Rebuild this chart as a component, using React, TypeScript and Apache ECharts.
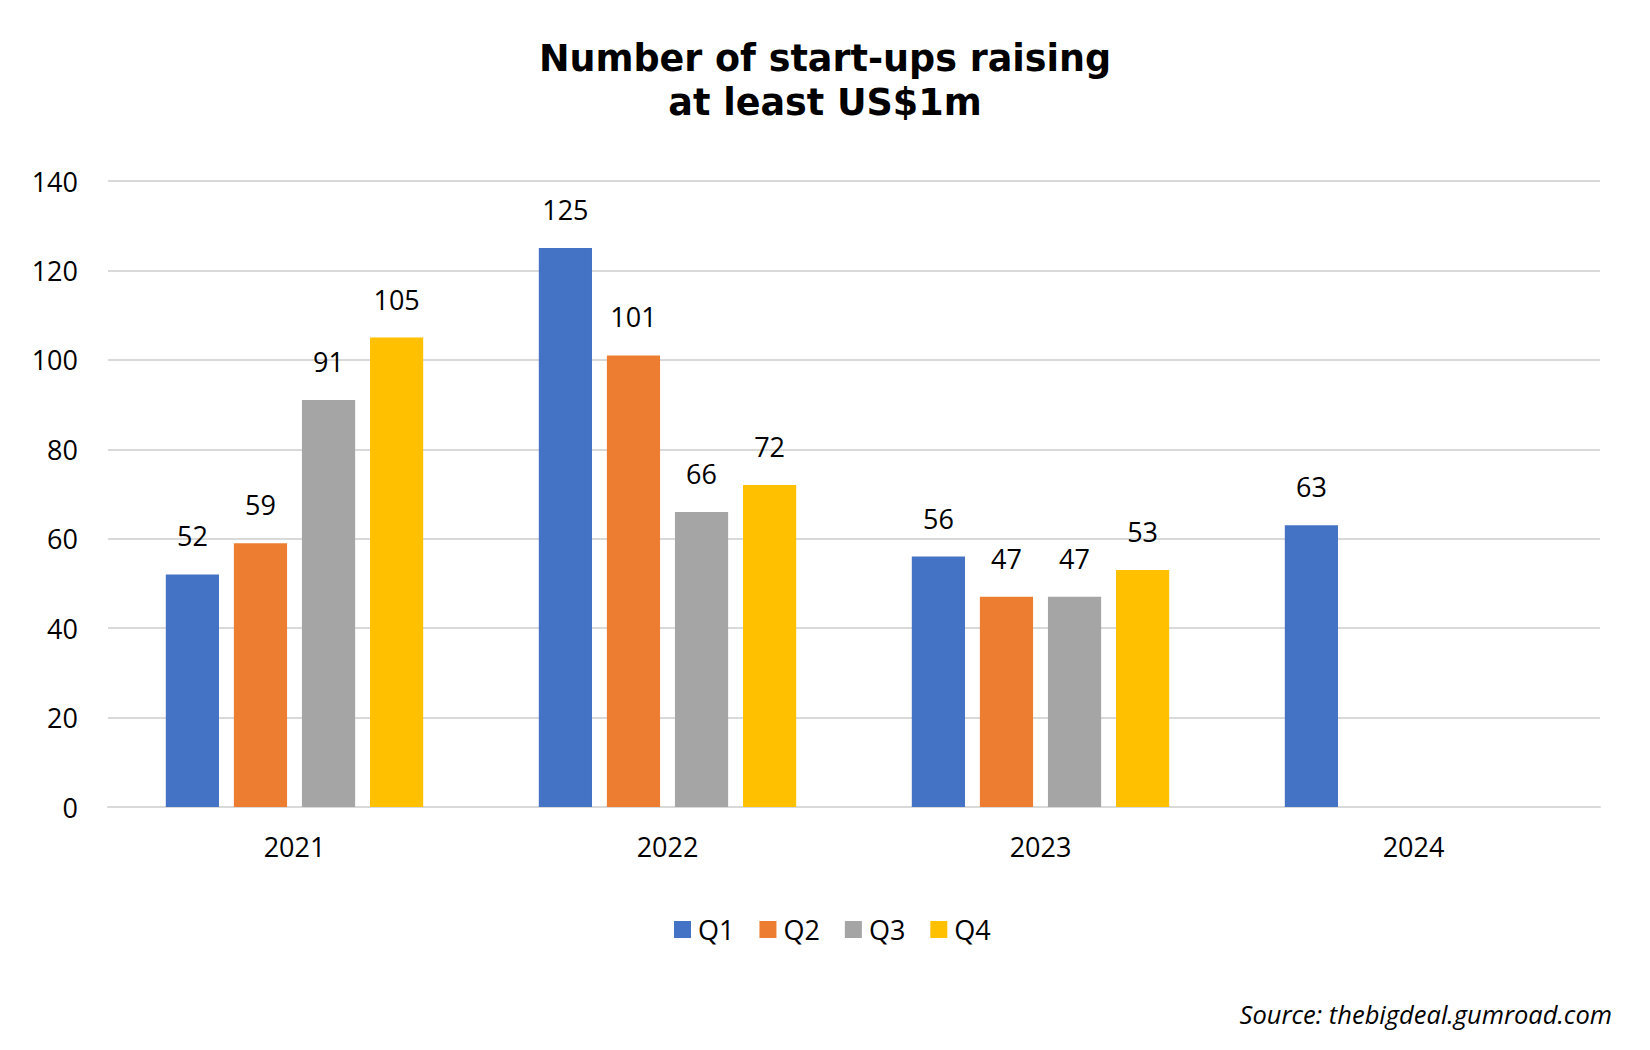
import React, { useEffect, useRef } from "react";
import * as echarts from "echarts";

const years = ["2021", "2022", "2023", "2024"];
const seriesNames = ["Q1", "Q2", "Q3", "Q4"];
const q1 = [52, 125, 56, 63];
const q2 = [59, 101, 47, null];
const q3 = [91, 66, 47, null];
const q4 = [105, 72, 53, null];
const colors = ["#4472C4", "#ED7D31", "#A5A5A5", "#FFC000"];
const yTicks = { min: 0, max: 140, interval: 20 };

const FONT = "'Open Sans', sans-serif";

export default function App() {
  const ref = useRef<HTMLDivElement>(null);
  useEffect(() => {
    document.body.style.margin = "0";
    if (!ref.current) return;
    const chart = echarts.init(ref.current, undefined, { renderer: "svg" });
    const values = [q1, q2, q3, q4];
    chart.setOption({
      animation: false,
      backgroundColor: "#ffffff",
      title: {
        text: "Number of start-ups raising\nat least US$1m",
        left: "center",
        top: 36,
        padding: 0,
        textStyle: {
          fontFamily: "'DejaVu Sans', Verdana, sans-serif",
          fontWeight: "bold",
          fontSize: 36.5,
          lineHeight: 44,
          color: "#000",
        },
      },
      legend: {
        data: seriesNames,
        top: 916,
        left: 674,
        padding: 0,
        icon: "rect",
        itemWidth: 17,
        itemHeight: 17,
        itemGap: 25,
        textStyle: {
          fontFamily: FONT,
          fontSize: 27,
          lineHeight: 27,
          color: "#000",
          padding: [0, 0, 0, 2],
        },
      },
      grid: { left: 108, right: 50, top: 181, bottom: 243, containLabel: false },
      xAxis: {
        type: "category",
        data: years,
        axisTick: { show: false },
        axisLine: { lineStyle: { color: "#d9d9d9", width: 2 } },
        axisLabel: {
          fontFamily: FONT,
          fontSize: 27,
          lineHeight: 27,
          color: "#000",
          margin: 26,
        },
      },
      yAxis: {
        type: "value",
        min: yTicks.min,
        max: yTicks.max,
        interval: yTicks.interval,
        axisLine: { show: false },
        axisTick: { show: false },
        splitLine: { lineStyle: { color: "#d9d9d9", width: 2 } },
        axisLabel: {
          fontFamily: FONT,
          fontSize: 27,
          color: "#000",
          margin: 30,
        },
      },
      series: seriesNames.map((name, i) => ({
        name,
        type: "bar",
        data: values[i],
        barGap: "28%",
        barCategoryGap: "31%",
        itemStyle: { color: colors[i] },
        label: {
          show: true,
          position: "top",
          distance: 25,
          fontFamily: FONT,
          fontSize: 27,
          color: "#000",
        },
      })),
      graphic: [
        {
          type: "text",
          right: 38,
          top: 1001,
          style: {
            text: "Source: thebigdeal.gumroad.com",
            fontFamily: FONT,
            fontStyle: "italic",
            fontSize: 25.5,
            fill: "#000",
          },
        },
      ],
    });
    return () => chart.dispose();
  }, []);
  return <div ref={ref} style={{ width: 1650, height: 1050 }} />;
}
